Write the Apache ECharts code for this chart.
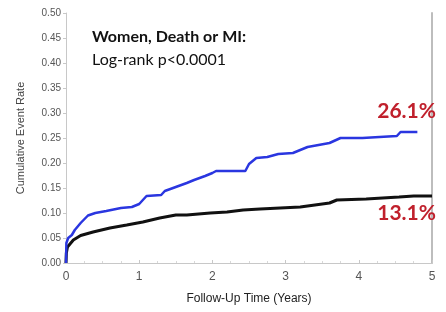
<!DOCTYPE html>
<html>
<head>
<meta charset="utf-8">
<script src="https://cdn.jsdelivr.net/npm/echarts@6/dist/echarts.min.js"></script>
<style>html,body{margin:0;padding:0;background:#fff}#c{width:446px;height:312px}</style>
</head>
<body>
<div id="c"></div>
<script>
// Data
const xTicks = [0, 1, 2, 3, 4, 5];
const yTicks = [0, 0.05, 0.10, 0.15, 0.20, 0.25, 0.30, 0.35, 0.40, 0.45, 0.50];
const titleLine1 = 'Women, Death or MI:';
const titleLine2 = 'Log-rank p<0.0001';
const labelHigh = '26.1%';
const labelLow = '13.1%';
const xAxisName = 'Follow-Up Time (Years)';
const yAxisName = 'Cumulative Event Rate';

const blueSeries = [
  [0,0],[0.005,0.04],[0.03,0.05],[0.08,0.056],[0.12,0.066],[0.2,0.08],[0.3,0.095],[0.4,0.1],
  [0.55,0.104],[0.75,0.11],[0.9,0.112],[1.0,0.118],[1.05,0.126],[1.1,0.134],[1.3,0.136],
  [1.35,0.144],[1.5,0.152],[1.65,0.16],[1.75,0.166],[1.9,0.174],[2.0,0.18],[2.05,0.184],
  [2.45,0.184],[2.5,0.198],[2.6,0.21],[2.75,0.212],[2.9,0.218],[3.1,0.22],[3.3,0.232],
  [3.6,0.24],[3.75,0.25],[4.05,0.25],[4.4,0.253],[4.52,0.254],[4.57,0.262],[4.8,0.262]
];
const blackSeries = [
  [0,0],[0.005,0.02],[0.02,0.032],[0.1,0.046],[0.2,0.055],[0.37,0.062],[0.6,0.07],[0.83,0.076],
  [1.05,0.082],[1.28,0.09],[1.5,0.096],[1.65,0.096],[1.97,0.1],[2.2,0.102],[2.42,0.106],
  [2.65,0.108],[3.2,0.112],[3.6,0.12],[3.7,0.126],[4.1,0.128],[4.55,0.132],[4.75,0.134],[5.0,0.134]
];

const chart = echarts.init(document.getElementById('c'), null, {renderer: 'canvas'});
const labelFont = 'Liberation Sans, Arial, sans-serif';
chart.setOption({
  animation: false,
  backgroundColor: '#fff',
  grid: {left: 66, right: 14, top: 13, bottom: 49},
  xAxis: {
    type: 'value', min: 0, max: 5, interval: 1,
    name: xAxisName, nameLocation: 'middle', nameGap: 30,
    nameTextStyle: {color: '#222', fontSize: 12, fontFamily: labelFont},
    axisLine: {show: true, lineStyle: {color: '#c8c8c8', width: 1}},
    axisTick: {show: true, inside: true, length: 3, lineStyle: {color: '#c8c8c8'}},
    minorTick: {show: true, splitNumber: 4, length: 2, lineStyle: {color: '#d8d8d8'}},
    axisLabel: {color: '#555', fontSize: 12, margin: 8, fontFamily: labelFont},
    splitLine: {show: false}
  },
  yAxis: [{
    type: 'value', min: 0, max: 0.5, interval: 0.05,
    name: yAxisName, nameLocation: 'middle', nameGap: 40,
    nameTextStyle: {color: '#444', fontSize: 11, fontFamily: labelFont},
    axisLine: {show: true, lineStyle: {color: '#c8c8c8', width: 1}},
    axisTick: {show: true, length: 3, lineStyle: {color: '#c8c8c8'}},
    axisLabel: {color: '#555', fontSize: 10, margin: 5, fontFamily: labelFont,
      formatter: v => yTicks.find(t => Math.abs(t - v) < 1e-9) !== undefined ? v.toFixed(2) : ''},
    splitLine: {show: false}
  }, {
    type: 'value', min: 0, max: 0.5, position: 'right',
    axisLine: {show: true, lineStyle: {color: '#bdbdbd', width: 2}},
    axisTick: {show: false}, axisLabel: {show: false}, splitLine: {show: false}
  }],
  title: [
    {text: titleLine1, left: 92, top: 29, padding: 0,
     textStyle: {fontFamily: 'Lato', fontWeight: 'bold', fontSize: 16, color: '#111'}},
    {text: titleLine2, left: 92, top: 52, padding: 0,
     textStyle: {fontFamily: 'Lato', fontWeight: 'normal', fontSize: 16, color: '#111'}},
    {text: labelHigh, right: 10, top: 101, padding: 0,
     textStyle: {fontFamily: 'Lato', fontWeight: 'bold', fontSize: 21, color: '#c0202c'}},
    {text: labelLow, right: 10, top: 203, padding: 0,
     textStyle: {fontFamily: 'Lato', fontWeight: 'bold', fontSize: 21, color: '#c0202c'}}
  ],
  series: [
    {type: 'line', data: blackSeries, showSymbol: false, symbol: 'none',
     lineStyle: {color: '#111', width: 3}, z: 2},
    {type: 'line', data: blueSeries, showSymbol: false, symbol: 'none',
     lineStyle: {color: '#2a36e0', width: 2.5}, z: 3}
  ]
});
</script>
</body>
</html>
